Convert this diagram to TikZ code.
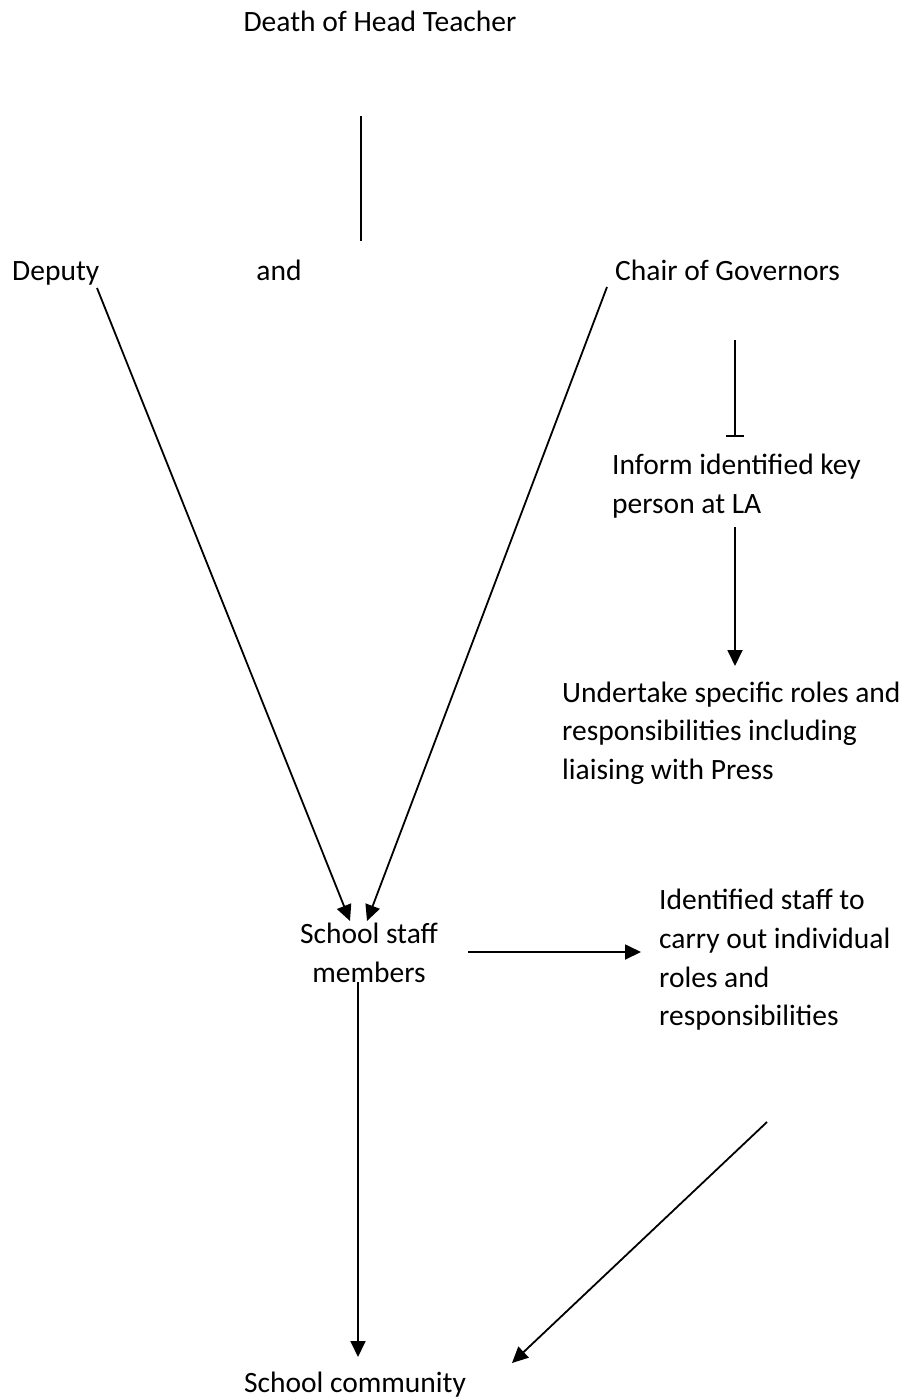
\documentclass[tikz,border=0pt]{standalone}
\usepackage{fontspec}
\setmainfont{Carlito}
\usetikzlibrary{arrows.meta}
\begin{document}
\begin{tikzpicture}[x=1pt,y=-1pt,
  lbl/.style={inner sep=0pt,font=\fontsize{29.5}{38.6}\selectfont,align=left},
  conn/.style={line width=1.8pt},
  arr/.style={conn,-{Triangle[length=16pt,width=15pt]}},
  barend/.style={conn,-{Bar[width=18pt,line width=2pt]}}]
\useasboundingbox (0,0) rectangle (904,1398);
\node[lbl,anchor=base] (death) at (380,31) {Death of Head Teacher};
\node[lbl,anchor=base west] (deputy) at (12,280) {Deputy};
\node[lbl,anchor=base] (and) at (279,280) {and};
\node[lbl,anchor=base west] (chair) at (615,280) {Chair of Governors};
\node[lbl,anchor=west] (inform) at (612,486) {Inform identified key\\person at LA};
\node[lbl,anchor=west] (undertake) at (562,733) {Undertake specific roles and\\responsibilities including\\liaising with Press};
\node[lbl,align=center] (staff) at (369,953) {School staff\\members};
\node[lbl,anchor=west] (ident) at (659,960) {Identified staff to\\carry out individual\\roles and\\responsibilities};
\node[lbl,anchor=base] (community) at (355,1392) {School community};
% endpoints
\coordinate (d1) at (361,116); \coordinate (d2) at (361,241);
\coordinate (dp) at (97,288); \coordinate (sA) at (350,921);
\coordinate (ch) at (607,287); \coordinate (sB) at (367,921);
\coordinate (c1) at (735,340); \coordinate (c2) at (735,437);
\coordinate (i1) at (735,527); \coordinate (i2) at (735,666);
\coordinate (s1) at (468,952); \coordinate (s2) at (641,952);
\coordinate (s3) at (358,982); \coordinate (s4) at (358,1357);
\coordinate (r1) at (767,1122); \coordinate (r2) at (512,1363);
\draw[conn] (d1) -- (d2);
\draw[arr] (dp) -- (sA);
\draw[arr] (ch) -- (sB);
\draw[barend] (c1) -- (c2);
\draw[arr] (i1) -- (i2);
\draw[arr] (s1) -- (s2);
\draw[arr] (s3) -- (s4);
\draw[arr] (r1) -- (r2);
\end{tikzpicture}
\end{document}
